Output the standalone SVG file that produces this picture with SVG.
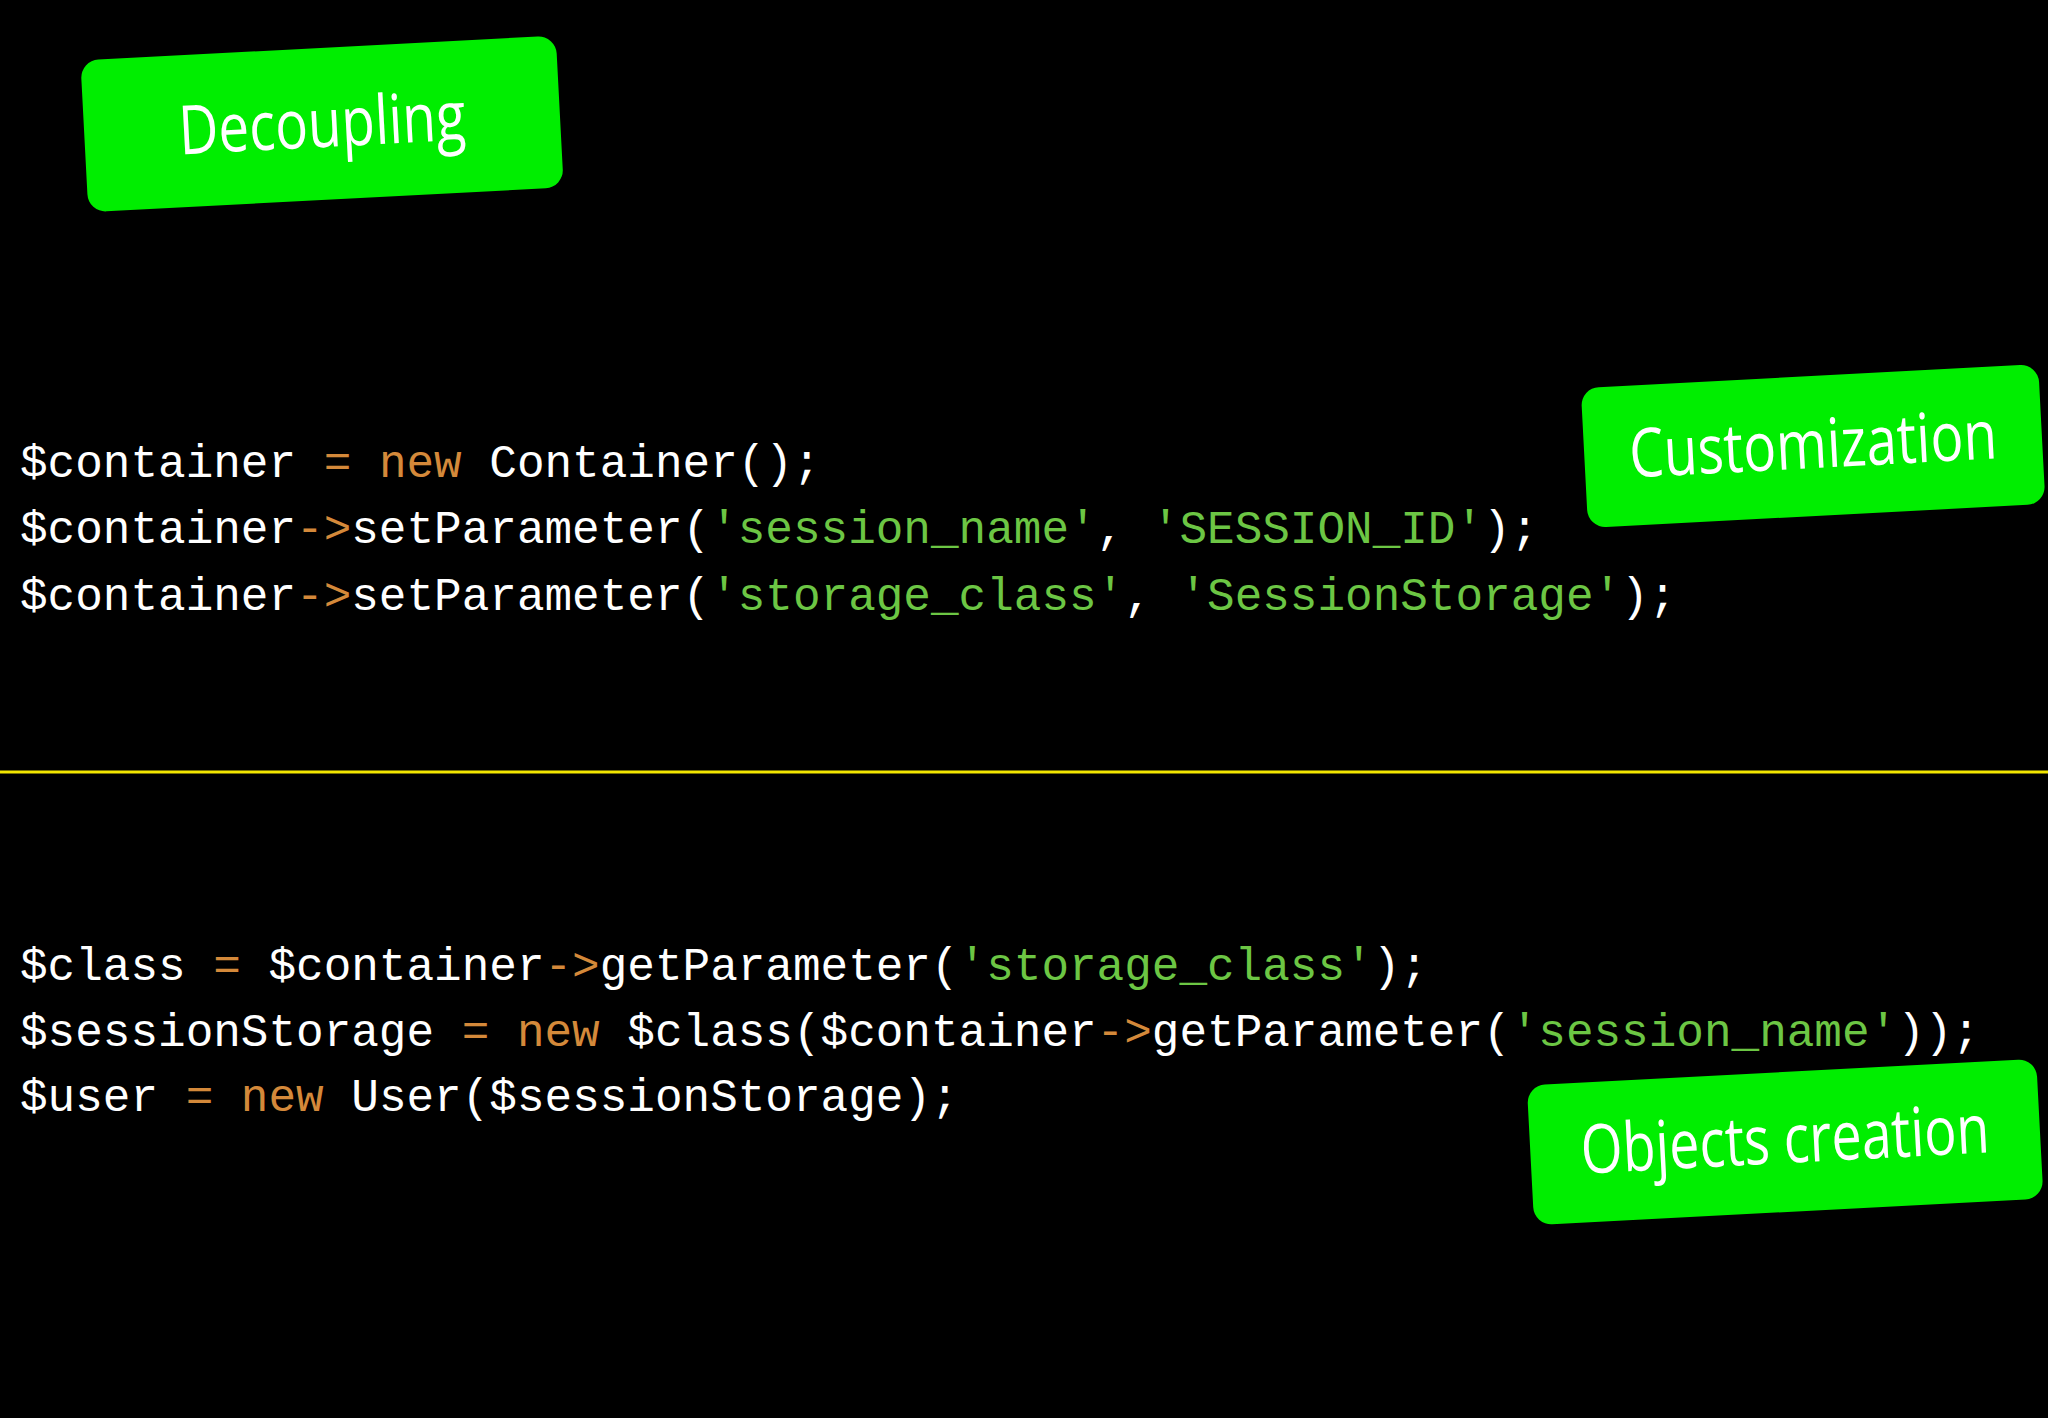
<svg xmlns="http://www.w3.org/2000/svg" width="2048" height="1418" viewBox="0 0 2048 1418">
<style>
.code{font-family:"Liberation Mono","DejaVu Sans Mono",monospace;font-size:46px;fill:#ffffff;white-space:pre}
.o{fill:#d4893a}.s{fill:#6cc644}
.lbl{font-family:"Open Sans","Liberation Sans",sans-serif;font-size:68px;fill:#ffffff;text-anchor:middle}
.box{fill:#00ee00}
</style>
<rect width="2048" height="1418" fill="#000"/>
<g id="decoupling" transform="rotate(-3 321 123)">
<rect class="box" x="84" y="48" width="476" height="152" rx="18"/>
<text class="lbl" x="322" y="147" textLength="287" lengthAdjust="spacingAndGlyphs">Decoupling</text>
</g>
<g id="customization" transform="rotate(-3 1813 444)">
<rect class="box" x="1584" y="376" width="458" height="140" rx="18"/>
<text class="lbl" x="1813" y="468" textLength="368" lengthAdjust="spacingAndGlyphs">Customization</text>
</g>
<g id="objects" transform="rotate(-3 1785 1139)">
<rect class="box" x="1530" y="1072" width="510" height="140" rx="18"/>
<text class="lbl" x="1785" y="1163" textLength="409" lengthAdjust="spacingAndGlyphs">Objects creation</text>
</g>
<g id="connectors">
<line x1="0" y1="772" x2="2048" y2="772" stroke="#f2e600" stroke-width="3"/>
</g>
<g id="code" xml:space="preserve">
<text class="code" x="20" y="477">$container <tspan class="o">=</tspan> <tspan class="o">new</tspan> Container();</text>
<text class="code" x="20" y="543">$container<tspan class="o">-&gt;</tspan>setParameter(<tspan class="s">'session_name'</tspan>, <tspan class="s">'SESSION_ID'</tspan>);</text>
<text class="code" x="20" y="610">$container<tspan class="o">-&gt;</tspan>setParameter(<tspan class="s">'storage_class'</tspan>, <tspan class="s">'SessionStorage'</tspan>);</text>
<text class="code" x="20" y="980">$class <tspan class="o">=</tspan> $container<tspan class="o">-&gt;</tspan>getParameter(<tspan class="s">'storage_class'</tspan>);</text>
<text class="code" x="20" y="1046">$sessionStorage <tspan class="o">=</tspan> <tspan class="o">new</tspan> $class($container<tspan class="o">-&gt;</tspan>getParameter(<tspan class="s">'session_name'</tspan>));</text>
<text class="code" x="20" y="1111">$user <tspan class="o">=</tspan> <tspan class="o">new</tspan> User($sessionStorage);</text>
</g>
</svg>
